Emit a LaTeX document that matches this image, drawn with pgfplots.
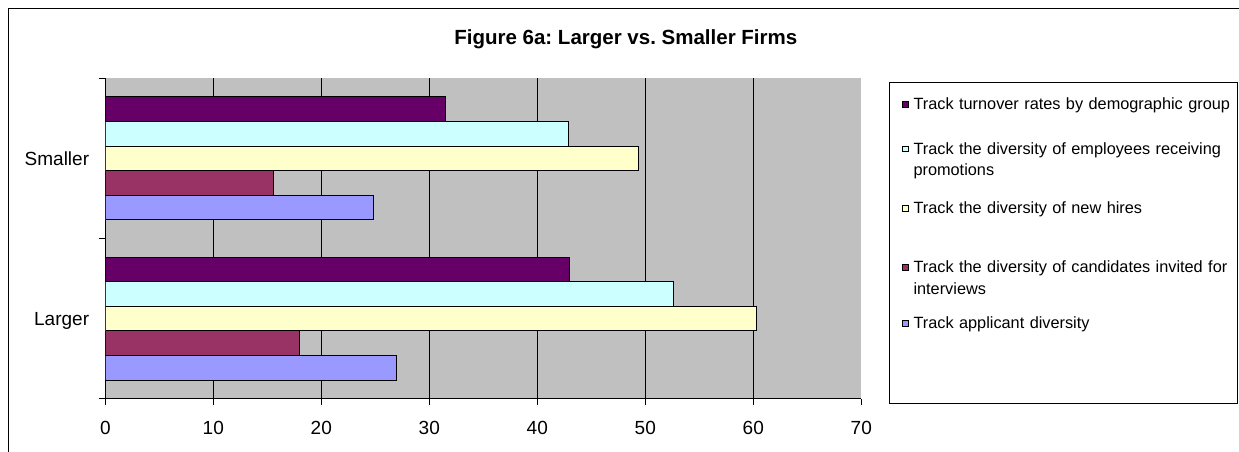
\documentclass[border=0pt]{standalone}
\usepackage{fontspec}
\setmainfont{Liberation Sans}
\usepackage{pgfplots}
\pgfplotsset{compat=1.18}
\usepackage{pgfplotstable}
\frenchspacing

\definecolor{turnover}{HTML}{660066}
\definecolor{promo}{HTML}{CCFFFF}
\definecolor{hires}{HTML}{FFFFCC}
\definecolor{cands}{HTML}{993366}
\definecolor{applic}{HTML}{9999FF}
\definecolor{plotbg}{HTML}{C0C0C0}

% y: 0.5 = Larger, 1.5 = Smaller
\pgfplotstableread{
y    applicant candidates hires promotions turnover
0.5  27.0      18.0       60.3  52.6       43.0
1.5  24.8      15.6       49.4  42.9       31.5
}\firms

\pgfplotsset{
  sq legend/.style={legend image code/.code={
      \path (0bp,0bp) (15bp,0bp);
      \draw[##1, draw=black, line width=0.8bp] (8.7bp,2.6bp) rectangle (14.4bp,8.3bp);}},
  firmbar/.style={fill=#1, draw=black, line width=0.9bp, sq legend},
}

\begin{document}
\begin{tikzpicture}
\path[use as bounding box] (0,0) rectangle (1239bp,-452bp);
\draw[black, line width=1bp] (8.5bp,-452bp) -- (8.5bp,-8.5bp) -- (1239bp,-8.5bp);
\node[font=\fontsize{20.5bp}{24bp}\selectfont\bfseries, anchor=base]
  at (625.8bp,-44bp) {Figure 6a: Larger vs. Smaller Firms};

\begin{axis}[
  at={(105.3bp,-398.7bp)}, anchor=south west,
  scale only axis, width=756bp, height=320.4bp,
  xbar, bar width=0.1536,
  xmin=0, xmax=70, ymin=0, ymax=2,
  axis x line*=bottom, axis y line*=left,
  axis line style={black, line width=0.9bp},
  axis background/.style={fill=plotbg},
  xtick={0,10,...,70},
  ytick={0,1,2}, yticklabels={},
  extra x ticks={10,20,...,60}, extra x tick labels={},
  extra x tick style={grid=major, major tick length=0pt},
  grid style={black, line width=0.7bp},
  extra y ticks={0.5,1.5}, extra y tick labels={Larger,Smaller},
  extra y tick style={major tick length=0pt},
  tick align=outside, major tick length=6bp,
  tick style={black, line width=0.8bp},
  tick label style={font=\fontsize{19bp}{22bp}\selectfont, inner sep=0pt},
  /pgf/number format/assume math mode=true,
  xticklabel shift=16bp,
  yticklabel style={anchor=base east, yshift=-7bp},
  yticklabel shift=16bp,
  reverse legend,
  legend style={at={(axis description cs:1.0366,0.9884)}, anchor=north west,
    draw=black, line width=0.9bp, inner xsep=4bp, inner ysep=15.3bp,
    row sep=0pt, column sep=4.2bp,
    font=\fontsize{16.3bp}{21.7bp}\selectfont,
    nodes={text width=320bp, inner sep=0pt, anchor=base west, align=left,
      text depth=0pt}},
]
% spacer row at the bottom of the legend box
\addlegendimage{empty legend}
\addlegendentry{\rule{0pt}{59bp}}
\addplot[firmbar=applic, bar shift=-0.3072] table[x=applicant, y=y] {\firms};
\addlegendentry{\rule{0pt}{56bp}Track applicant diversity}
\addplot[firmbar=cands, bar shift=-0.1536] table[x=candidates, y=y] {\firms};
\addlegendentry{\rule{0pt}{58.4bp}Track the diversity of candidates invited for\\interviews}
\addplot[firmbar=hires, bar shift=0] table[x=hires, y=y] {\firms};
\addlegendentry{\rule{0pt}{59bp}Track the diversity of new hires}
\addplot[firmbar=promo, bar shift=0.1536] table[x=promotions, y=y] {\firms};
\addlegendentry{\rule{0pt}{44bp}Track the diversity of employees receiving\\promotions}
\addplot[firmbar=turnover, bar shift=0.3072] table[x=turnover, y=y] {\firms};
\addlegendentry{\rule{0pt}{12bp}Track turnover rates by demographic group}
\end{axis}
\end{tikzpicture}
\end{document}
